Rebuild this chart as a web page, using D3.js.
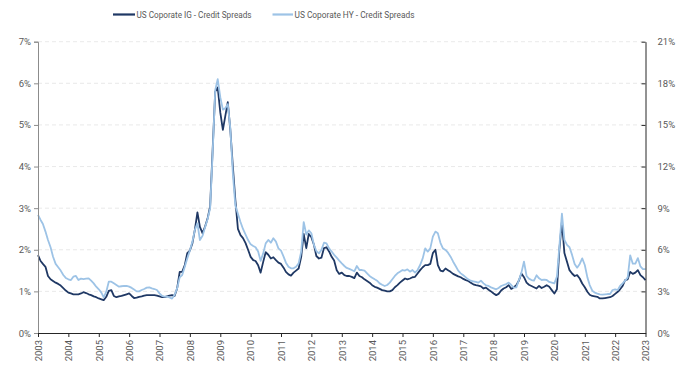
<!DOCTYPE html>
<html>
<head>
<meta charset="utf-8">
<script src="https://cdn.jsdelivr.net/npm/d3@7"></script>
<style>
  html, body { margin: 0; padding: 0; background: #fff; }
  svg { display: block; font-family: Roboto, "Liberation Sans", sans-serif; }
</style>
</head>
<body>
<svg id="chart" width="691" height="369"></svg>
<script>
// ---- Data (monthly, Jan 2003 .. Jan 2023) ----
const seriesNames = ["US Coporate IG - Credit Spreads", "US Coporate HY - Credit Spreads"];
const startMonth = "2003-01";
const endMonth = "2023-01";

// Investment grade spread (%), left axis
const igValues = [
  1.87, 1.73, 1.66, 1.59, 1.37, 1.29, 1.25, 1.21, 1.18, 1.14, 1.08, 1.02,
  0.97, 0.95, 0.93, 0.93, 0.93, 0.95, 0.98, 0.96, 0.93, 0.91, 0.88, 0.86,
  0.83, 0.81, 0.79, 0.87, 1.01, 1.03, 0.89, 0.86, 0.88, 0.89, 0.91, 0.93,
  0.95, 0.89, 0.84, 0.85, 0.87, 0.88, 0.90, 0.91, 0.91, 0.91, 0.91, 0.90,
  0.88, 0.86, 0.86, 0.88, 0.90, 0.91, 0.89, 1.07, 1.47, 1.47, 1.63, 1.92,
  1.98, 2.16, 2.48, 2.90, 2.55, 2.40, 2.55, 2.75, 3.05, 4.40, 5.80, 5.90,
  5.30, 4.88, 5.20, 5.55, 4.90, 4.00, 3.20, 2.50, 2.35, 2.28, 2.16, 2.00,
  1.83, 1.75, 1.73, 1.63, 1.45, 1.71, 1.94, 1.88, 1.79, 1.82, 1.75, 1.69,
  1.66, 1.57, 1.47, 1.41, 1.38, 1.45, 1.50, 1.55, 1.83, 2.38, 2.04, 2.38,
  2.30, 2.12, 1.85, 1.79, 1.81, 2.04, 2.06, 1.96, 1.83, 1.74, 1.51, 1.42,
  1.45, 1.39, 1.37, 1.37, 1.35, 1.32, 1.45, 1.37, 1.34, 1.29, 1.25, 1.21,
  1.15, 1.11, 1.09, 1.06, 1.03, 1.02, 1.00, 1.00, 1.03, 1.10, 1.15, 1.21,
  1.26, 1.31, 1.29, 1.31, 1.34, 1.35, 1.43, 1.51, 1.58, 1.63, 1.63, 1.66,
  1.92, 2.00, 1.63, 1.50, 1.48, 1.55, 1.51, 1.47, 1.42, 1.39, 1.36, 1.34,
  1.30, 1.27, 1.25, 1.21, 1.17, 1.15, 1.14, 1.12, 1.07, 1.09, 1.04, 1.00,
  0.95, 0.91, 0.94, 1.02, 1.07, 1.10, 1.15, 1.06, 1.10, 1.15, 1.26, 1.43,
  1.34, 1.21, 1.16, 1.13, 1.10, 1.07, 1.13, 1.08, 1.11, 1.15, 1.11, 1.03,
  0.95, 1.05, 2.00, 2.68, 1.92, 1.71, 1.51, 1.43, 1.37, 1.39, 1.31, 1.19,
  1.10, 0.99, 0.92, 0.89, 0.88, 0.87, 0.83, 0.83, 0.84, 0.85, 0.86, 0.89,
  0.94, 0.99, 1.05, 1.13, 1.27, 1.29, 1.47, 1.42, 1.45, 1.51, 1.39, 1.34,
  1.27
];

// High yield spread (%), right axis
const hyValues = [
  8.51, 8.15, 7.86, 7.31, 6.71, 6.18, 5.50, 4.98, 4.74, 4.50, 4.18, 3.97,
  3.87, 3.82, 4.06, 4.11, 3.82, 3.92, 3.89, 3.92, 3.94, 3.77, 3.58, 3.34,
  3.15, 2.91, 2.57, 2.98, 3.70, 3.70, 3.58, 3.46, 3.34, 3.37, 3.39, 3.39,
  3.34, 3.25, 3.13, 3.00, 3.00, 3.10, 3.17, 3.27, 3.29, 3.22, 3.17, 3.10,
  2.86, 2.67, 2.62, 2.62, 2.57, 2.48, 2.74, 3.22, 4.01, 4.18, 4.78, 5.38,
  5.94, 6.59, 7.43, 7.90, 6.70, 7.00, 7.60, 8.20, 9.00, 13.0, 17.5, 18.3,
  17.0, 16.1, 16.2, 16.5, 14.8, 11.5, 9.20, 8.60, 8.00, 7.50, 7.10, 6.70,
  6.39, 6.27, 6.18, 5.87, 5.20, 5.74, 6.46, 6.71, 6.51, 6.83, 6.59, 6.10,
  5.94, 5.51, 5.07, 4.78, 4.66, 4.66, 4.78, 5.02, 5.87, 8.00, 7.10, 7.40,
  7.19, 6.35, 5.91, 5.74, 5.99, 6.51, 6.46, 6.10, 5.87, 5.63, 5.43, 5.22,
  5.02, 4.83, 4.69, 4.62, 4.54, 4.45, 4.83, 4.54, 4.54, 4.50, 4.30, 4.11,
  3.99, 3.87, 3.77, 3.58, 3.48, 3.39, 3.46, 3.63, 3.87, 4.11, 4.30, 4.42,
  4.54, 4.50, 4.59, 4.42, 4.54, 4.35, 4.54, 4.90, 5.38, 6.10, 5.87, 6.10,
  6.95, 7.31, 7.19, 6.50, 6.10, 5.99, 5.79, 5.50, 5.14, 4.83, 4.50, 4.30,
  4.16, 4.01, 3.87, 3.77, 3.73, 3.68, 3.63, 3.77, 3.58, 3.44, 3.39, 3.29,
  3.22, 3.15, 3.25, 3.39, 3.46, 3.53, 3.63, 3.46, 3.27, 3.29, 3.82, 4.35,
  5.15, 4.11, 3.92, 3.82, 3.77, 4.16, 3.94, 3.82, 3.85, 3.82, 3.68, 3.63,
  3.58, 4.06, 6.23, 8.60, 6.71, 6.35, 6.18, 5.63, 4.98, 4.71, 4.98, 5.38,
  4.90, 4.01, 3.46, 3.05, 2.91, 2.84, 2.79, 2.76, 2.79, 2.81, 2.81, 3.10,
  3.15, 3.10, 3.39, 3.58, 3.77, 4.01, 5.60, 5.00, 5.00, 5.40, 4.80, 4.60,
  4.60
];

const leftTicks = [0, 1, 2, 3, 4, 5, 6, 7];
const rightTicks = [0, 3, 6, 9, 12, 15, 18, 21];
const yearTicks = ["2003","2004","2005","2006","2007","2008","2009","2010","2011","2012","2013",
                   "2014","2015","2016","2017","2018","2019","2020","2021","2022","2023"];

// ---- Layout ----
const W = 691, H = 369;
const plot = { left: 38, right: 645.5, top: 41.7, bottom: 333 };
const colIG = "#1f3864";
const colHY = "#9dc3e6";
const textCol = "#595959";

const parseM = d3.timeParse("%Y-%m");
const months = d3.timeMonth.range(parseM(startMonth), d3.timeMonth.offset(parseM(endMonth), 1));

const svg = d3.select("#chart");

const x = d3.scaleTime()
  .domain([parseM(startMonth), parseM(endMonth)])
  .range([plot.left, plot.right]);
const yL = d3.scaleLinear().domain([0, 7]).range([plot.bottom, plot.top]);
const yR = d3.scaleLinear().domain([0, 21]).range([plot.bottom, plot.top]);

// gridlines
svg.append("g")
  .selectAll("line")
  .data(leftTicks.filter(d => d > 0))
  .join("line")
  .attr("x1", plot.left).attr("x2", plot.right)
  .attr("y1", d => yL(d)).attr("y2", d => yL(d))
  .attr("stroke", "#e3e3e3")
  .attr("stroke-width", 0.8)
  .attr("stroke-dasharray", "4,3");

// series
const igData = months.map((d, i) => ({ date: d, v: igValues[i] }));
const hyData = months.map((d, i) => ({ date: d, v: hyValues[i] }));

svg.append("path")
  .datum(igData)
  .attr("fill", "none")
  .attr("stroke", colIG)
  .attr("stroke-width", 1.8)
  .attr("stroke-linejoin", "round")
  .attr("d", d3.line().x(d => x(d.date)).y(d => yL(d.v)));

svg.append("path")
  .datum(hyData)
  .attr("fill", "none")
  .attr("stroke", colHY)
  .attr("stroke-width", 1.8)
  .attr("stroke-linejoin", "round")
  .attr("d", d3.line().x(d => x(d.date)).y(d => yR(d.v)));

// left axis
const gL = svg.append("g")
  .attr("transform", `translate(${plot.left},0)`)
  .call(d3.axisLeft(yL).tickValues(leftTicks).tickFormat(d => d + "%").tickSize(4).tickPadding(3));
gL.select(".domain").attr("stroke", "#8c8c8c");
gL.selectAll(".tick line").attr("stroke", "#8c8c8c");
gL.selectAll("text").attr("fill", textCol).style("font-size", "9.5px").style("font-family", "Roboto, sans-serif");

// right axis
const gR = svg.append("g")
  .attr("transform", `translate(${plot.right},0)`)
  .call(d3.axisRight(yR).tickValues(rightTicks).tickFormat(d => d + "%").tickSizeInner(-4).tickSizeOuter(0).tickPadding(12));
gR.select(".domain").attr("stroke", "#262626");
gR.selectAll(".tick line").attr("stroke", "#262626");
gR.selectAll("text").attr("fill", textCol).style("font-size", "9.5px").style("font-family", "Roboto, sans-serif");

// bottom axis
const gB = svg.append("g")
  .attr("transform", `translate(0,${plot.bottom})`)
  .call(d3.axisBottom(x)
    .tickValues(yearTicks.map(y => d3.timeParse("%Y")(y)))
    .tickFormat(d3.timeFormat("%Y"))
    .tickSize(4).tickSizeOuter(0));
gB.select(".domain").attr("stroke", "#262626");
gB.selectAll(".tick line").attr("stroke", "#262626");
gB.selectAll("text")
  .attr("fill", textCol)
  .style("font-size", "9.5px")
  .style("font-family", "Roboto, sans-serif")
  .attr("text-anchor", "end")
  .attr("transform", "rotate(-90)")
  .attr("x", -7)
  .attr("y", 0)
  .attr("dy", "0.35em");

// legend
const legend = svg.append("g").style("font-family", "Roboto, sans-serif").style("font-size", "9.5px");
const legendItems = [
  { name: seriesNames[0], color: colIG, x0: 113, x1: 135, w: 115 },
  { name: seriesNames[1], color: colHY, x0: 272.5, x1: 293, w: 120 }
];
legendItems.forEach(it => {
  legend.append("line")
    .attr("x1", it.x0).attr("x2", it.x1)
    .attr("y1", 14.5).attr("y2", 14.5)
    .attr("stroke", it.color).attr("stroke-width", 2.2);
  legend.append("text")
    .attr("x", it.x1 + 1.5).attr("y", 14.5)
    .attr("dy", "0.35em")
    .attr("fill", textCol)
    .attr("textLength", it.w)
    .attr("lengthAdjust", "spacingAndGlyphs")
    .text(it.name);
});
</script>
</body>
</html>
